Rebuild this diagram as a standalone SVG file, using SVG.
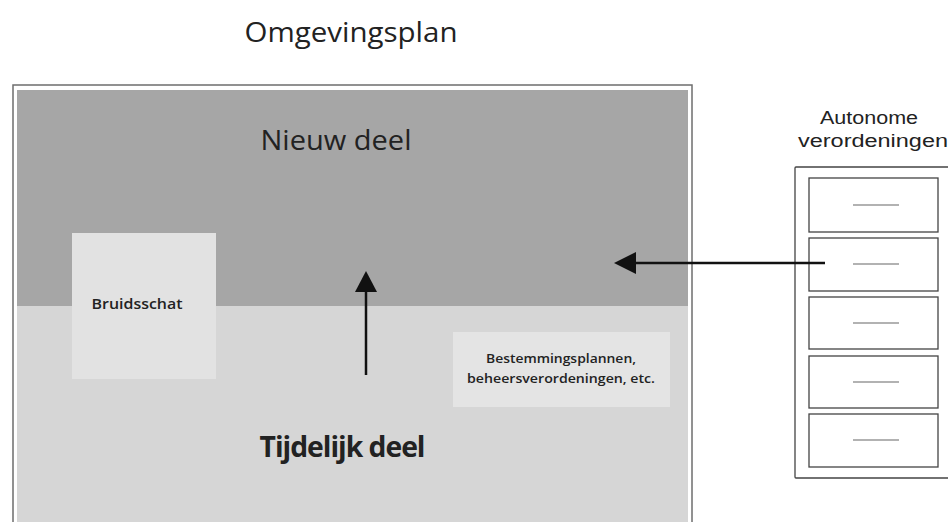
<svg xmlns="http://www.w3.org/2000/svg" width="948" height="522" viewBox="0 0 948 522">
<defs>
<style>
text{font-family:"Open Sans","Liberation Sans",sans-serif;fill:#222}
.side{font-family:"Liberation Sans",Arial,sans-serif;font-size:18px}
.frame{fill:#fff;stroke:#6e6e6e;stroke-width:1.5}
.box{fill:#fff;stroke:#444;stroke-width:1.3}
.dash{stroke:#666;stroke-width:1.2}
.conn{stroke:#111;stroke-width:2.5;fill:none}
</style>
</defs>
<rect width="948" height="522" fill="#fff"/>
<g id="title"><text x="351" y="42" font-size="28" text-anchor="middle" textLength="213" lengthAdjust="spacingAndGlyphs">Omgevingsplan</text></g>
<g id="omgevingsplan">
<rect class="frame" x="13" y="85" width="679" height="440"/>
<rect x="17" y="90" width="671" height="216" fill="#a6a6a6"/>
<rect x="17" y="306" width="671" height="216" fill="#d6d6d6"/>
</g>
<g id="nieuw-deel"><text x="336" y="150" font-size="28" font-weight="500" text-anchor="middle" textLength="151" lengthAdjust="spacingAndGlyphs">Nieuw deel</text></g>
<g id="tijdelijk-deel"><text x="342" y="457" font-size="28" font-weight="bold" text-anchor="middle" textLength="165" lengthAdjust="spacingAndGlyphs" letter-spacing="-1">Tijdelijk deel</text></g>
<g id="bruidsschat">
<rect x="72" y="233" width="144" height="146" fill="#e2e2e2"/>
<text x="137" y="309" font-size="15" font-weight="600" text-anchor="middle" textLength="91" lengthAdjust="spacingAndGlyphs">Bruidsschat</text>
</g>
<g id="bestemmingsplannen">
<rect x="453" y="332" width="217" height="75" fill="#e4e4e4"/>
<text x="561" y="363" font-size="13" font-weight="600" text-anchor="middle" textLength="150" lengthAdjust="spacingAndGlyphs">Bestemmingsplannen,</text>
<text x="561" y="383" font-size="13" font-weight="600" text-anchor="middle" textLength="188" lengthAdjust="spacingAndGlyphs">beheersverordeningen, etc.</text>
</g>
<g id="autonome-verordeningen">
<text class="side" x="869" y="124" text-anchor="middle" textLength="98" lengthAdjust="spacingAndGlyphs">Autonome</text>
<text class="side" x="873" y="147" text-anchor="middle" textLength="150" lengthAdjust="spacingAndGlyphs">verordeningen</text>
<rect class="box" x="795" y="167" width="160" height="311" rx="1"/>
<rect class="box" x="809" y="178" width="129" height="54"/>
<line class="dash" x1="853" y1="205" x2="899" y2="205"/>
<rect class="box" x="809" y="238" width="129" height="53"/>
<line class="dash" x1="853" y1="264" x2="899" y2="264"/>
<rect class="box" x="809" y="297" width="129" height="52"/>
<line class="dash" x1="853" y1="323" x2="899" y2="323"/>
<rect class="box" x="809" y="356" width="129" height="52"/>
<line class="dash" x1="853" y1="382" x2="899" y2="382"/>
<rect class="box" x="809" y="414" width="129" height="53"/>
<line class="dash" x1="853" y1="440" x2="899" y2="440"/>
</g>
<g id="connectors">
<line class="conn" x1="366" y1="375" x2="366" y2="282"/>
<path d="M366,271 L377,292 L355,292 z" fill="#111"/>
<line class="conn" x1="825" y1="263" x2="628" y2="263"/>
<path d="M614,263 L636,252 L636,274 z" fill="#111"/>
</g>
</svg>
